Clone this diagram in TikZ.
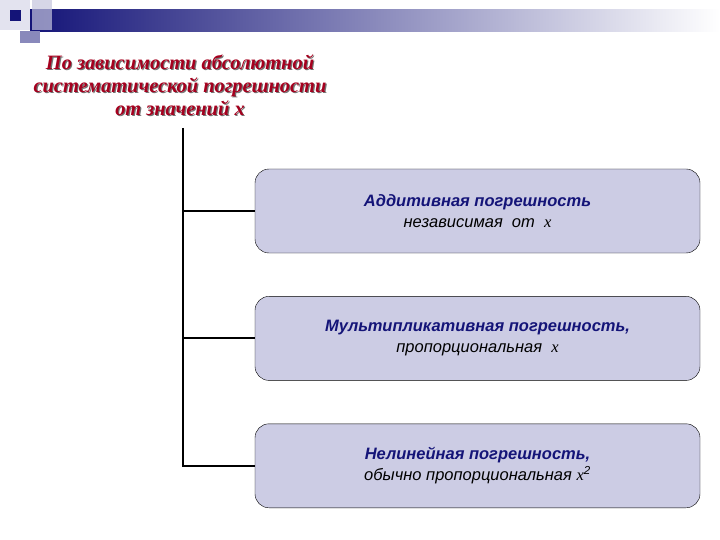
\documentclass[tikz,border=0pt]{standalone}
\usepackage{fontspec}
\setmainfont{Liberation Serif}
\setsansfont{Liberation Sans}
\usetikzlibrary{positioning}
\definecolor{navy}{RGB}{20,20,120}
\definecolor{lilac}{RGB}{204,204,228}
\definecolor{titlered}{RGB}{165,0,30}
\tikzset{
    kindbox/.style={draw, fill=lilac, rounded corners=14pt, minimum width=445pt,
        minimum height=84pt, align=center, font=\sffamily\fontsize{16.5}{21}\selectfont},
    titletext/.style={align=center, font=\bfseries\itshape\fontsize{20.4}{23}\selectfont},
    bus/.style={line width=2pt},
}
\newcommand{\kindhead}[1]{{\bfseries\itshape\color{navy}#1}}
\newcommand{\varx}{{\rmfamily\itshape x}}
\begin{document}
\begin{tikzpicture}[x=1pt,y=-1pt]
    \useasboundingbox (0,0) rectangle (720,540);
    % banner
    \shade[left color=navy, right color=white] (30,10) rectangle (720,32);
    \fill[navy!12] (0,0) rectangle (30,30);
    \fill[navy!25, opacity=0.7] (32,0) rectangle (52,30);
    \fill[navy!50] (20,31) rectangle (40,43);
    \fill[navy] (10,10) rectangle (21,21);
    % title with shadow
    \node[titletext, text=black!55] at (181.2,86.2)
        {По зависимости абсолютной\\систематической погрешности\\от значений x};
    \node (title) [titletext, text=titlered] at (180,85)
        {По зависимости абсолютной\\систематической погрешности\\от значений x};
    \coordinate (top) at (183,128);
    % kinds
    \node (add) [kindbox] at (477.5,211)
        {\kindhead{Аддитивная погрешность}\\\itshape независимая~~от~~\varx};
    \node (mult) [kindbox, below=43pt of add]
        {\kindhead{Мультипликативная погрешность,}\\\itshape пропорциональная~~\varx};
    \node (nonlin) [kindbox, below=43pt of mult]
        {\kindhead{Нелинейная погрешность,}\\\itshape обычно пропорциональная \varx\textsuperscript{2}};
    \draw[bus] (top) |- (nonlin.west);
    \foreach \k in {add,mult}
        \draw[bus] (top |- \k.west) -- (\k.west);
\end{tikzpicture}
\end{document}
